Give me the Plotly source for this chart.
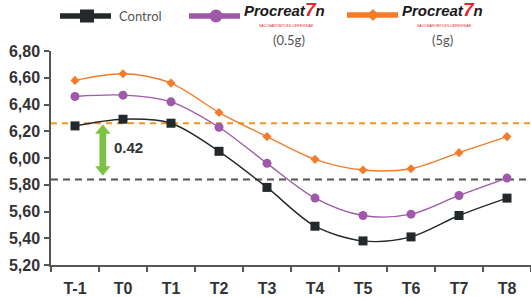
import plotly.graph_objects as go

categories = ["T-1", "T0", "T1", "T2", "T3", "T4", "T5", "T6", "T7", "T8"]
control = [6.24, 6.29, 6.26, 6.05, 5.78, 5.49, 5.38, 5.41, 5.57, 5.70]
procreatin_05 = [6.46, 6.47, 6.42, 6.23, 5.96, 5.70, 5.57, 5.58, 5.72, 5.85]
procreatin_5 = [6.58, 6.63, 6.56, 6.34, 6.16, 5.99, 5.91, 5.92, 6.04, 6.16]
ref_high = 6.26
ref_low = 5.84
diff_label = "0.42"
y_ticks = [5.20, 5.40, 5.60, 5.80, 6.00, 6.20, 6.40, 6.60, 6.80]

C_CTRL = "#23282B"
C_PURP = "#9E59A8"
C_ORNG = "#F47B2A"
C_GREEN = "#7DC242"

W, H = 531, 297
L, R, T, B = 51, 0, 51, 32
PW, PH = W - L - R, H - T - B

def px(x):
    return (x - L) / PW

def py(y):
    return (H - B - y) / PH

fig = go.Figure()
fig.add_trace(go.Scatter(x=categories, y=procreatin_5, mode="lines+markers",
                         line=dict(color=C_ORNG, width=1.4, shape="spline", smoothing=0.9),
                         marker=dict(symbol="diamond", size=7, color=C_ORNG), showlegend=False))
fig.add_trace(go.Scatter(x=categories, y=procreatin_05, mode="lines+markers",
                         line=dict(color=C_PURP, width=1.4, shape="spline", smoothing=0.9),
                         marker=dict(symbol="circle", size=9, color=C_PURP), showlegend=False))
fig.add_trace(go.Scatter(x=categories, y=control, mode="lines+markers",
                         line=dict(color=C_CTRL, width=1.4, shape="spline", smoothing=0.9),
                         marker=dict(symbol="square", size=9, color=C_CTRL), showlegend=False))

shapes = []
shapes.append(dict(type="line", xref="paper", yref="y", x0=0, x1=1, y0=ref_high, y1=ref_high,
                   line=dict(color="#F7931E", width=2, dash="6px,5px"), layer="below"))
shapes.append(dict(type="line", xref="paper", yref="y", x0=0, x1=1, y0=ref_low, y1=ref_low,
                   line=dict(color="#555555", width=2, dash="7px,5px"), layer="below"))

# green double arrow between the reference lines
xa = 0.58
top = ref_high - 0.007
bot = ref_low + 0.027
hh, hw, sw = 0.072, 0.16, 0.07
path = (f"M {xa},{top} L {xa+hw},{top-hh} L {xa+sw},{top-hh} L {xa+sw},{bot+hh} "
        f"L {xa+hw},{bot+hh} L {xa},{bot} L {xa-hw},{bot+hh} L {xa-sw},{bot+hh} "
        f"L {xa-sw},{top-hh} L {xa-hw},{top-hh} Z")
shapes.append(dict(type="path", xref="x", yref="y", path=path, fillcolor=C_GREEN,
                   line=dict(width=0)))

def leg_line(x0, x1, y, color):
    shapes.append(dict(type="line", xref="paper", yref="paper", x0=px(x0), x1=px(x1),
                       y0=py(y), y1=py(y), line=dict(color=color, width=5.5)))

leg_line(60, 111, 16, C_CTRL)
shapes.append(dict(type="rect", xref="paper", yref="paper", x0=px(80), x1=px(94),
                   y0=py(22.5), y1=py(9.5), fillcolor=C_CTRL, line=dict(width=0)))
leg_line(189, 240, 16, C_PURP)
shapes.append(dict(type="circle", xref="paper", yref="paper", x0=px(209.5), x1=px(222.5),
                   y0=py(22.5), y1=py(9.5), fillcolor=C_PURP, line=dict(width=0)))
leg_line(347, 398, 15, C_ORNG)
cx, cy = 373, 15
shapes.append(dict(type="path", xref="paper", yref="paper",
                   path=f"M {px(cx)},{py(cy-6)} L {px(cx+6)},{py(cy)} L {px(cx)},{py(cy+6)} L {px(cx-6)},{py(cy)} Z",
                   fillcolor=C_ORNG, line=dict(width=0)))

annotations = []
annotations.append(dict(x=px(117), y=py(16), xref="paper", yref="paper", text="Control",
                        showarrow=False, xanchor="left", yanchor="middle",
                        font=dict(family="Lato", size=13, color="#555555")))

logo = "<b><i>Procreat<span style='color:#E3262B;font-size:19px'>7</span>n</i></b>"
for xc, sub_x, sub in [(284, 289, "(0.5g)"), (442, 442, "(5g)")]:
    annotations.append(dict(x=px(xc), y=py(22), xref="paper", yref="paper", text=logo,
                            showarrow=False, xanchor="center", yanchor="bottom",
                            font=dict(family="Liberation Sans", size=15, color="#1A1A1A")))
    annotations.append(dict(x=px(xc + 2), y=py(25.5), xref="paper", yref="paper",
                            text="SACCHAROMYCES CEREVISIAE", showarrow=False,
                            xanchor="center", yanchor="middle",
                            font=dict(family="Liberation Sans", size=3.5, color="#E3262B")))
    annotations.append(dict(x=px(sub_x), y=py(40), xref="paper", yref="paper", text=sub,
                            showarrow=False, xanchor="center", yanchor="middle",
                            font=dict(family="Lato", size=13, color="#555555")))

annotations.append(dict(x=0.77, y=(ref_high + ref_low) / 2 + 0.025, xref="x", yref="y",
                        text=f"<b>{diff_label}</b>", showarrow=False, xanchor="left",
                        yanchor="middle",
                        font=dict(family="Liberation Sans", size=15, color="#333333")))

fig.update_layout(
    width=W, height=H,
    margin=dict(l=L, r=R, t=T, b=B, pad=0),
    paper_bgcolor="white", plot_bgcolor="white",
    separators=",.",
    shapes=shapes, annotations=annotations,
    showlegend=False,
    xaxis=dict(type="category", categoryorder="array", categoryarray=categories,
               range=[-0.5, 9.5], showgrid=False, zeroline=False,
               showline=True, linecolor="#555555", linewidth=1.5,
               ticks="outside", tickson="boundaries", ticklen=5, tickcolor="#555555",
               tickwidth=1.5, ticklabelstandoff=8,
               tickfont=dict(family="Liberation Sans", size=16, color="#333333", weight="bold")),
    yaxis=dict(range=[5.2, 6.8], tickvals=y_ticks, tickformat=".2f", showgrid=False,
               zeroline=False, showline=True, linecolor="#555555", linewidth=1.5,
               ticks="outside", ticklen=5, tickcolor="#555555", tickwidth=1.5,
               ticklabelstandoff=1,
               tickfont=dict(family="Liberation Sans", size=16, color="#333333", weight="bold")),
)

fig.write_html("out.html", config={"displayModeBar": False},
               post_script="document.body.style.margin='0';document.body.style.overflow='hidden';")
